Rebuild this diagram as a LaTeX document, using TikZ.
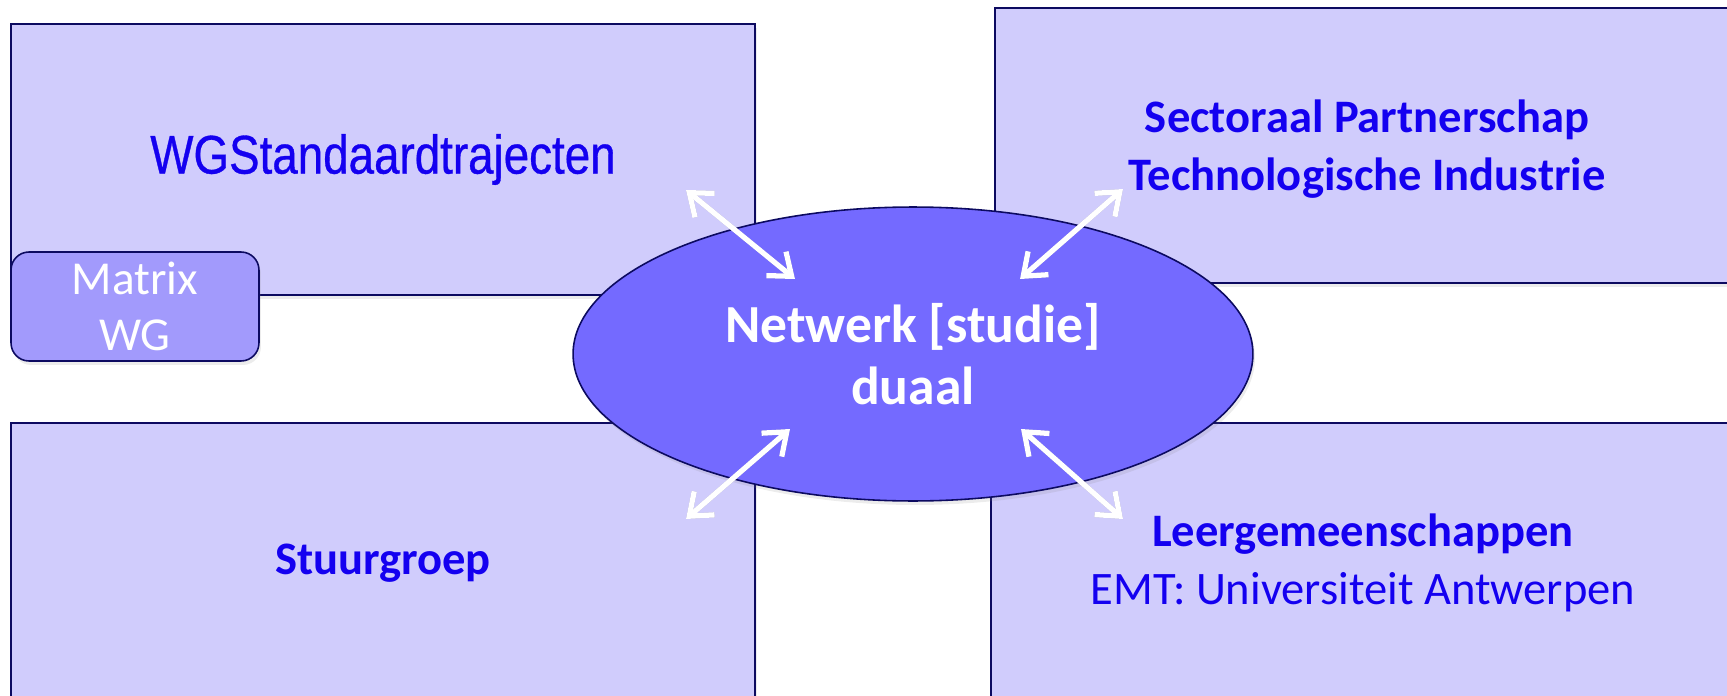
\documentclass[tikz,border=0pt]{standalone}
\usepackage{fontspec}
\setmainfont{Carlito}
\newfontfamily\narrowfont[FakeStretch=0.84, FakeBold=0.6]{Liberation Sans}
\usetikzlibrary{shapes.geometric, arrows.meta, shadows}

\begin{document}
\begin{tikzpicture}[x=0.02cm, y=-0.02cm,
		panel/.style={draw=edgecolor, line width=0.9pt, fill=panelcolor, text=labelcolor, align=center, inner sep=0pt,
			font=\fontsize{26.5}{32.9}\selectfont\bfseries,
			drop shadow={shadow xshift=0.04cm, shadow yshift=-0.08cm, opacity=0.15}},
		duo/.style={{Straight Barb[length=0.4cm, width=0.62cm]}-{Straight Barb[length=0.4cm, width=0.62cm]}, line width=3pt, line cap=round}]
			\definecolor{panelcolor}{RGB}{208, 204, 252}
			\definecolor{hubcolor}{RGB}{116, 106, 255}
			\definecolor{matrixcolor}{RGB}{162, 154, 252}
			\definecolor{labelcolor}{RGB}{20, 0, 240}
			\definecolor{edgecolor}{RGB}{12, 10, 96}
			\useasboundingbox (0, 0) rectangle (1727, 696);
			\clip (0, 0) rectangle (1727, 696);

			\node[panel, minimum width=14.88cm, minimum height=5.42cm] (trajecten) at (383, 159.5)
				{\narrowfont\mdseries\fontsize{31}{36}\selectfont WGStandaardtrajecten};
			\node[panel, minimum width=14.88cm, minimum height=5.5cm, text depth=-0.12cm] (sectoraal) at (1367, 145.5)
				{Sectoraal Partnerschap\\Technologische Industrie};
			\node[panel, minimum width=14.88cm, minimum height=5.6cm] (stuurgroep) at (383, 563) {Stuurgroep};
			\node[panel, minimum width=14.88cm, minimum height=5.6cm] (leer) at (1363, 563)
				{Leergemeenschappen\\\mdseries EMT: Universiteit Antwerpen};
			\node[panel, fill=matrixcolor, text=white, rounded corners=0.36cm, minimum width=4.96cm, minimum height=2.18cm,
				font=\fontsize{26.9}{32.3}\selectfont] (matrix) at (135, 306.5) {Matrix\\WG};
			\node[panel, ellipse, fill=hubcolor, text=white, minimum width=13.6cm, minimum height=5.88cm,
				font=\fontsize{30.5}{35.7}\selectfont\bfseries] (netwerk) at (913, 354) {Netwerk [studie]\\duaal};

			\coordinate (trajecten-end) at (686, 190);
			\coordinate (sectoraal-end) at (1123, 189);
			\coordinate (stuurgroep-end) at (686, 519);
			\coordinate (leer-end) at (1123, 519);
			\coordinate (netwerk-nw) at (795, 279);
			\coordinate (netwerk-ne) at (1020, 279);
			\coordinate (netwerk-sw) at (790, 429);
			\coordinate (netwerk-se) at (1021, 429);

			\begin{scope}[black, opacity=0.22, xshift=0.05cm, yshift=-0.07cm]
				\foreach \a/\b in {trajecten-end/netwerk-nw, sectoraal-end/netwerk-ne, stuurgroep-end/netwerk-sw, leer-end/netwerk-se}
					\draw[duo] (\a) -- (\b);
			\end{scope}
			\begin{scope}[white]
				\foreach \a/\b in {trajecten-end/netwerk-nw, sectoraal-end/netwerk-ne, stuurgroep-end/netwerk-sw, leer-end/netwerk-se}
					\draw[duo] (\a) -- (\b);
			\end{scope}
		\end{tikzpicture}
\end{document}
